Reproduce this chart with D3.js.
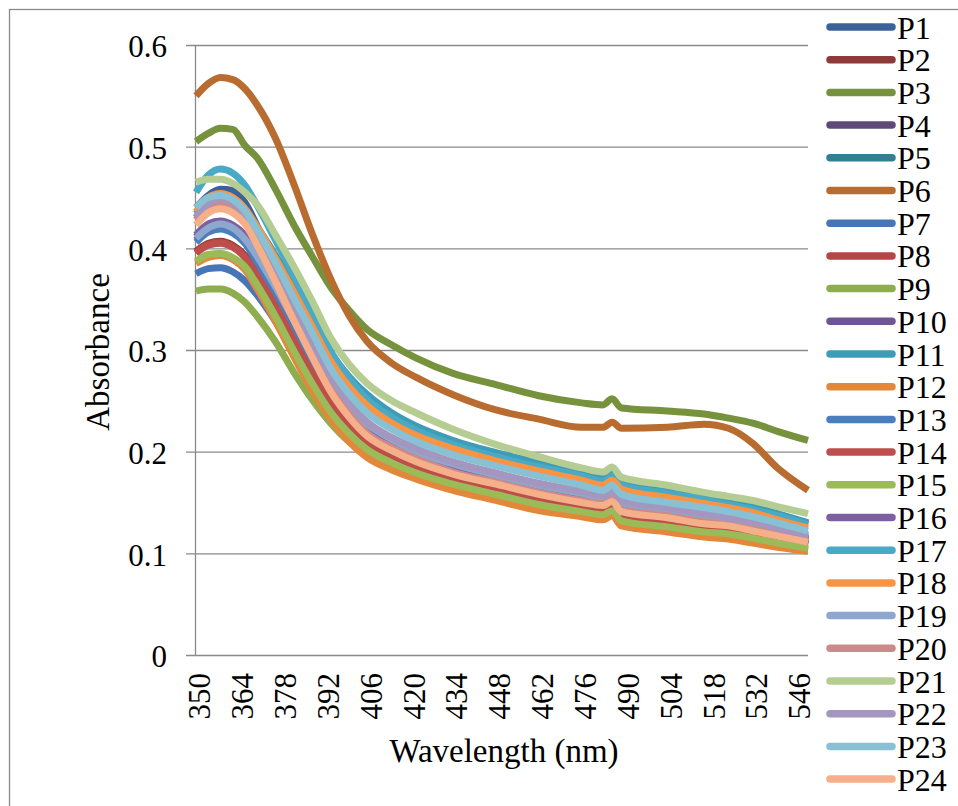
<!DOCTYPE html>
<html>
<head>
<meta charset="utf-8">
<script src="https://cdn.jsdelivr.net/npm/d3@7"></script>
<style>
  html, body { margin: 0; padding: 0; background: #fff; }
  svg { display: block; }
  svg text { font-family: "Liberation Serif", "Times New Roman", Tinos, "DejaVu Serif", serif; fill: #000; }
</style>
</head>
<body>
<svg id="chart" width="958" height="806"></svg>
<script>
// Absorbance spectra of samples P1–P24, 350–550 nm
const wavelengths = [350, 354, 358, 362, 366, 370, 376, 382, 388, 394, 400, 406, 414, 422, 434, 448, 462, 476, 483, 486, 489, 504, 516, 524, 532, 540, 550];

const P1  = [.440,.452,.458,.457,.445,.422,.385,.346,.307,.271,.244,.224,.209,.198,.185,.174,.164,.156,.153,.157,.147,.141,.135,.132,.127,.122,.115];
const P2  = [.397,.405,.407,.403,.393,.376,.346,.313,.282,.253,.231,.215,.201,.190,.178,.168,.158,.150,.147,.151,.141,.135,.129,.127,.122,.117,.111];
const P3  = [.505,.513,.518,.517,.501,.489,.458,.423,.392,.362,.339,.320,.305,.292,.277,.266,.255,.248,.246,.252,.243,.240,.237,.233,.228,.220,.211];
const P4  = [.411,.422,.425,.421,.410,.391,.359,.324,.290,.259,.235,.218,.204,.193,.180,.170,.160,.152,.149,.153,.143,.137,.131,.128,.124,.119,.112];
const P5  = [.430,.443,.447,.443,.432,.417,.389,.359,.328,.295,.271,.254,.236,.223,.209,.197,.187,.177,.172,.177,.168,.160,.154,.150,.145,.138,.129];
const P6  = [.550,.562,.568,.566,.557,.541,.508,.463,.414,.370,.334,.308,.287,.273,.256,.241,.232,.224,.224,.229,.223,.224,.227,.223,.208,.184,.162];
const P7  = [.375,.380,.381,.377,.368,.354,.328,.298,.270,.245,.226,.212,.198,.188,.176,.165,.155,.148,.145,.149,.139,.133,.128,.125,.121,.116,.110];
const P8  = [.396,.404,.406,.402,.392,.374,.343,.309,.276,.247,.225,.209,.196,.185,.173,.163,.153,.146,.143,.147,.137,.131,.126,.123,.119,.114,.108];
const P9  = [.358,.360,.360,.356,.347,.333,.308,.278,.251,.228,.210,.199,.187,.176,.165,.155,.145,.139,.136,.140,.130,.124,.119,.117,.113,.109,.104];
const P10 = [.408,.418,.421,.417,.407,.389,.357,.323,.290,.260,.236,.219,.205,.194,.182,.171,.161,.154,.150,.154,.145,.138,.132,.129,.125,.120,.113];
const P11 = [.434,.447,.452,.448,.437,.421,.393,.363,.331,.298,.274,.256,.238,.225,.211,.199,.189,.179,.174,.179,.170,.162,.156,.151,.146,.139,.130];
const P12 = [.385,.391,.393,.389,.379,.360,.328,.293,.260,.232,.210,.194,.182,.173,.162,.152,.142,.136,.133,.137,.127,.121,.116,.114,.110,.106,.102];
const P13 = [.406,.416,.419,.415,.405,.386,.353,.318,.285,.254,.231,.214,.200,.189,.177,.167,.157,.150,.146,.150,.141,.134,.129,.126,.122,.117,.111];
const P14 = [.395,.403,.405,.401,.391,.373,.343,.309,.277,.248,.226,.210,.197,.186,.174,.164,.154,.147,.144,.148,.138,.132,.126,.124,.120,.115,.109];
const P15 = [.387,.394,.395,.391,.382,.364,.333,.299,.267,.239,.218,.202,.189,.179,.168,.158,.148,.141,.138,.142,.132,.126,.121,.119,.115,.110,.105];
const P16 = [.413,.424,.427,.423,.413,.394,.362,.328,.294,.263,.239,.222,.207,.196,.184,.173,.163,.155,.151,.156,.146,.139,.134,.131,.126,.121,.114];
const P17 = [.455,.472,.478,.474,.462,.442,.408,.373,.336,.299,.272,.251,.234,.221,.207,.195,.185,.176,.171,.176,.167,.159,.153,.148,.143,.137,.128];
const P18 = [.436,.450,.454,.450,.439,.421,.390,.357,.323,.289,.264,.245,.228,.216,.203,.191,.181,.172,.167,.172,.163,.155,.149,.145,.140,.133,.125];
const P19 = [.410,.420,.424,.420,.409,.392,.362,.329,.297,.266,.243,.227,.212,.200,.188,.177,.167,.159,.155,.159,.150,.143,.137,.134,.129,.124,.117];
const P20 = [.428,.441,.445,.441,.430,.408,.372,.334,.297,.263,.237,.218,.204,.193,.180,.170,.160,.152,.149,.153,.143,.137,.131,.128,.124,.119,.112];
const P21 = [.465,.468,.468,.464,.455,.443,.413,.382,.348,.312,.286,.267,.250,.238,.222,.207,.195,.184,.180,.185,.175,.167,.160,.156,.152,.146,.139];
const P22 = [.431,.444,.449,.445,.433,.413,.379,.344,.308,.274,.248,.229,.214,.203,.190,.179,.169,.161,.157,.161,.152,.145,.139,.135,.131,.125,.118];
const P23 = [.440,.450,.452,.448,.437,.418,.386,.351,.317,.282,.257,.238,.222,.210,.197,.186,.176,.167,.162,.167,.158,.150,.145,.141,.136,.130,.122];
const P24 = [.423,.435,.439,.435,.424,.403,.367,.329,.293,.259,.234,.215,.201,.190,.178,.168,.158,.150,.147,.151,.141,.135,.129,.127,.122,.117,.111];

const seriesNames  = ["P1","P2","P3","P4","P5","P6","P7","P8","P9","P10","P11","P12",
                      "P13","P14","P15","P16","P17","P18","P19","P20","P21","P22","P23","P24"];
const seriesValues = [P1,P2,P3,P4,P5,P6,P7,P8,P9,P10,P11,P12,P13,P14,P15,P16,P17,P18,P19,P20,P21,P22,P23,P24];

const xTicks = [350, 364, 378, 392, 406, 420, 434, 448, 462, 476, 490, 504, 518, 532, 546];
const yTicks = [0, 0.1, 0.2, 0.3, 0.4, 0.5, 0.6];

const colors = ["#3B6399","#8E3A38","#77923D","#5E4979","#327F95","#B86C30",
                "#4676B6","#B34745","#8DAD4E","#6E5695","#3F9CB6","#E3883B",
                "#4A7EBC","#BD4E4B","#9BBA58","#7D60A0","#48AAC6","#F79545",
                "#8DA7CE","#CC8B8A","#B5CC93","#A497BF","#89C0D4","#F5AF89"];

const serif = '"Liberation Serif", "Times New Roman", Tinos, "DejaVu Serif", serif';
const svg = d3.select("#chart");
const gridColor = "#8a8a8a";

// outer chart frame
svg.append("rect")
  .attr("x", 9.5).attr("y", 9.5)
  .attr("width", 980).attr("height", 820)
  .attr("fill", "none").attr("stroke", gridColor).attr("stroke-width", 1.3);

const x = d3.scaleLinear().domain([350, 550]).range([196, 808]);
const y = d3.scaleLinear().domain([0, 0.6]).range([655, 45]);

// value axis with horizontal gridlines
const yAxis = svg.append("g")
  .attr("transform", "translate(186,0)")
  .call(d3.axisLeft(y).tickValues(yTicks).tickSize(-(808 - 186)).tickPadding(19)
        .tickFormat(d => d === 0 ? "0" : d3.format(".1f")(d)));
yAxis.attr("font-family", serif).attr("font-size", 31);
yAxis.select(".domain").remove();
yAxis.selectAll(".tick line").attr("stroke", gridColor).attr("stroke-width", 1.3);
yAxis.selectAll(".tick text")
  .attr("dy", "0.38em")
  .attr("fill", "#000");

// vertical axis line
svg.append("line")
  .attr("x1", 195.5).attr("x2", 195.5)
  .attr("y1", y(0.6)).attr("y2", y(0))
  .attr("stroke", gridColor).attr("stroke-width", 1.3);

// wavelength axis labels, rotated
const xAxis = svg.append("g")
  .attr("transform", `translate(0,${y(0)})`)
  .call(d3.axisBottom(x).tickValues(xTicks).tickSize(0).tickFormat(d3.format("d")));
xAxis.attr("font-family", serif).attr("font-size", 31);
xAxis.select(".domain").remove();
xAxis.selectAll(".tick text")
  .attr("transform", "rotate(-90)")
  .attr("text-anchor", "end")
  .attr("x", -18)
  .attr("y", 0)
  .attr("dy", "0.45em")
  .attr("fill", "#000");

// spectra
const line = d3.line()
  .x((d, i) => x(wavelengths[i]))
  .y(d => y(d))
  .curve(d3.curveMonotoneX);

svg.append("g")
  .selectAll("path")
  .data(seriesValues)
  .join("path")
  .attr("d", d => line(d))
  .attr("fill", "none")
  .attr("stroke", (d, i) => colors[i])
  .attr("stroke-width", 7)
  .attr("stroke-linejoin", "round");

// axis titles
svg.append("text")
  .attr("transform", "translate(97,352) rotate(-90)")
  .attr("text-anchor", "middle")
  .attr("dy", "0.35em")
  .attr("font-family", serif)
  .attr("font-size", 33)
  .text("Absorbance");

svg.append("text")
  .attr("x", 504).attr("y", 762)
  .attr("text-anchor", "middle")
  .attr("font-family", serif)
  .attr("font-size", 33)
  .text("Wavelength (nm)");

// legend
const legend = svg.append("g")
  .attr("font-family", serif)
  .attr("font-size", 32)
  .selectAll("g")
  .data(seriesNames)
  .join("g")
  .attr("transform", (d, i) => `translate(0,${27 + i * 32.7})`);

legend.append("line")
  .attr("x1", 830).attr("x2", 892)
  .attr("y1", 0).attr("y2", 0)
  .attr("stroke", (d, i) => colors[i])
  .attr("stroke-width", 7.5)
  .attr("stroke-linecap", "round");

legend.append("text")
  .attr("x", 897).attr("y", 11.5)
  .text(d => d);
</script>
</body>
</html>
